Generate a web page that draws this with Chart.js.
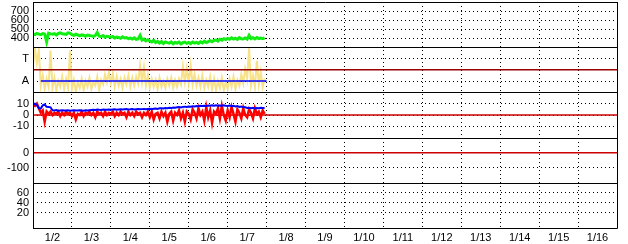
<!DOCTYPE html>
<html>
<head>
<meta charset="utf-8">
<script src="https://cdn.jsdelivr.net/npm/chart.js@4/dist/chart.umd.min.js"></script>
<style>
html,body{margin:0;padding:0;background:#fff;}
canvas{display:block;}
</style>
</head>
<body>
<canvas id="c" width="628" height="244"></canvas>
<script>
// ---- categories / tick labels ----
const dayLabels = ['1/2','1/3','1/4','1/5','1/6','1/7','1/8','1/9','1/10','1/11','1/12','1/13','1/14','1/15','1/16'];
const panel1Ticks = [400, 500, 600, 700];
const panel2Ticks = [1, 3];
const panel2TickNames = {1: 'A', 3: 'T'};
const panel3Ticks = [-10, 0, 10];
const panel4Ticks = [-100, 0];
const panel5Ticks = [20, 40, 60];

// ---- sampling (days since start of 1/2) ----
const sampleStart = 0;
const sampleStep = 0.05;

// ---- series values ----
const greenVals = [
 448,440,452,445,438,450,446,360,455,447,
 444,450,436,452,458,449,445,441,458,456,
 438,432,444,435,425,436,432,420,434,430,
 425,420,428,462,422,418,428,410,420,416,
 410,418,402,412,408,398,414,402,406,394,
 400,390,404,386,392,430,378,390,370,382,
 368,358,376,352,365,345,362,340,358,350,
 344,358,338,352,346,356,336,350,356,342,
 352,340,358,346,354,342,360,348,366,352,
 362,372,360,376,380,368,388,378,394,384,
 398,388,404,390,400,386,406,394,392,402,
 390,432,396,406,392,408,396,402,394,404
];
const yellowVals = [
 2.4,3.9,2.6,3.7,0.6,1.5,0.3,1.2,0.5,3.7,
 0.4,1.3,0.2,1.0,0.5,1.4,0.3,1.2,0.4,3.7,
 0.3,1.1,0.1,0.9,0.4,1.2,0.2,1.0,0.5,1.3,
 0.3,0.9,0.6,1.4,0.2,1.1,0.7,1.6,0.9,1.8,
 0.8,1.7,0.5,1.4,0.6,1.2,0.4,1.3,0.7,1.5,
 0.5,1.3,0.6,1.4,0.8,2.4,0.9,2.2,0.6,1.5,
 0.4,1.2,0.5,1.1,0.3,1.3,0.5,1.0,0.4,1.2,
 0.6,1.3,0.4,1.1,0.5,1.2,0.7,2.3,0.9,2.1,
 0.8,2.4,0.7,1.6,0.6,1.3,0.5,1.5,0.4,1.1,
 0.5,1.4,0.3,1.2,0.2,1.0,0.4,1.3,0.2,0.9,
 0.3,1.2,0.5,1.4,0.3,1.1,0.6,1.6,0.8,2.1,
 1.2,3.9,0.6,1.5,0.5,2.8,0.7,1.8,0.5,1.2
];
const blueVals = [
 9.5,10,8.8,6,5.8,8.5,9.3,7.2,7,6.8,
 4.2,4,4.4,3.8,4,4.2,3.9,4,4.1,3.8,
 4,4.2,3.9,4,4.3,4,3.8,4.1,4,4.2,
 4.4,4.6,4.4,4.8,4.6,4.5,4.8,4.6,4.7,4.9,
 4.6,4.8,5,4.7,4.9,5.1,4.8,5,5.2,4.9,
 5,5.2,4.9,5.1,5.3,5,5.2,5.4,5.1,5.3,
 5.5,5.2,5.6,5.8,5.4,5.9,6,5.7,6.2,6,
 6.3,6.1,6.6,6.4,6.8,7,6.7,7.2,7.4,7.1,
 7.5,7.3,7.8,7.6,8,7.7,8.1,7.9,8.2,8,
 8.3,8.1,8.5,8.2,8.6,8.3,8.4,8.1,8.5,8.2,
 8,8.3,7.8,8.1,7.6,7.9,7.2,7.5,7,6.8,
 6.2,6.4,6,6.3,5.8,6.2,6,6.4,6.1,6.3
];
const redVals = [
 9,8,10,6,2,4,-6,3,1,3,
 0,2,1,3,-1,2,0,3,1,2,
 -1,2,-4,1,0,3,-1,2,1,3,
 0,2,-2,3,1,2,-1,3,0,2,
 1,3,-1,2,0,3,1,2,-2,3,
 0,2,-1,3,1,2,-2,2,0,3,
 -2,3,-4,1,2,-3,3,-1,2,-6,
 1,3,-5,2,0,4,-3,2,-6,3,
 1,-4,5,2,-3,6,0,3,-5,7,
 -2,4,-7,3,1,6,-3,8,0,-5,
 4,-2,7,1,-6,5,2,-3,6,0,
 -2,5,2,-3,6,1,3,-2,4,1
];
// level lines: [startDay, endDay, value]
const alarmLevel = [0, 15, 2];
const avgLevel = [0.2, 6.0, 1];
const zeroLevel3 = [0, 15, 0];
const zeroLevel4 = [0, 15, 0];

// ---- build datasets ----
const toPts = vals => vals.map((v, i) => ({x: sampleStart + i * sampleStep, y: v}));
const lvl = a => [{x: a[0], y: a[2]}, {x: a[1], y: a[2]}];

const FONT = {family: "'Liberation Sans Narrow','Liberation Sans',Arial,sans-serif", size: 11};
const common = {pointRadius: 0, borderJoinStyle: 'miter', tension: 0, fill: false, xAxisID: 'x'};

const datasets = [
  Object.assign({label: 'green', data: toPts(greenVals), yAxisID: 'y1', borderColor: '#11ee11', borderWidth: 3, order: 1}, common),
  Object.assign({label: 'avg', data: lvl(avgLevel), yAxisID: 'y2', borderColor: '#0000ff', borderWidth: 1.5, order: 1}, common),
  Object.assign({label: 'alarm', data: lvl(alarmLevel), yAxisID: 'y2', borderColor: '#990000', borderWidth: 1.5, order: 2}, common),
  Object.assign({label: 'yellow', data: toPts(yellowVals), yAxisID: 'y2', borderColor: '#f7e28a', borderWidth: 2, order: 3}, common),
  Object.assign({label: 'blue', data: toPts(blueVals), yAxisID: 'y3', borderColor: '#0000ff', borderWidth: 2, order: 1}, common),
  Object.assign({label: 'red', data: toPts(redVals), yAxisID: 'y3', borderColor: '#ff0000', borderWidth: 2.5, order: 2}, common),
  Object.assign({label: 'zero3', data: lvl(zeroLevel3), yAxisID: 'y3', borderColor: '#cc0000', borderWidth: 1.5, order: 3}, common),
  Object.assign({label: 'zero4', data: lvl(zeroLevel4), yAxisID: 'y4', borderColor: '#cc0000', borderWidth: 1.5, order: 1}, common)
];

function noPad(s) { s.paddingTop = 0; s.paddingBottom = 0; s.paddingLeft = 0; s.paddingRight = 0; }

function yAxis(min, max, ticks, cb) {
  return {
    type: 'linear', position: 'left', stack: 'panels', stackWeight: 1, offset: false,
    min: min, max: max,
    afterBuildTicks: s => { s.ticks = ticks.map(v => ({value: v})); },
    afterFit: s => { s.width = 33; noPad(s); },
    grid: {color: '#000', lineWidth: 1, drawTicks: false},
    border: {display: false, dash: [1, 3]},
    ticks: {color: '#000', font: FONT, padding: 4, autoSkip: false, callback: cb || (v => String(v))}
  };
}

const framePlugin = {
  id: 'frame',
  afterDraw(chart) {
    const ctx = chart.ctx, a = chart.chartArea;
    ctx.save();
    ctx.strokeStyle = '#000';
    ctx.lineWidth = 1;
    ctx.setLineDash([]);
    ctx.beginPath();
    ['y1', 'y2', 'y3', 'y4', 'y5'].forEach(id => {
      const yb = Math.round(chart.scales[id].bottom) + 0.5;
      ctx.moveTo(a.left, yb); ctx.lineTo(a.right, yb);
    });
    ctx.rect(Math.round(a.left) + 0.5, Math.round(a.top) + 0.5, Math.round(a.right - a.left), Math.round(a.bottom - a.top));
    ctx.stroke();
    ctx.restore();
  }
};

new Chart(document.getElementById('c'), {
  type: 'line',
  data: {labels: dayLabels, datasets: datasets},
  options: {
    responsive: false, animation: false, devicePixelRatio: 1,
    layout: {padding: {left: 0, right: 11, top: 2, bottom: 0}},
    plugins: {legend: {display: false}, tooltip: {enabled: false}},
    scales: {
      xc: {
        type: 'category', position: 'bottom', labels: dayLabels, offset: true,
        afterFit: s => { s.height = 16; noPad(s); },
        grid: {offset: true, color: '#000', lineWidth: 1, drawTicks: false},
        border: {display: false, dash: [1, 3]},
        ticks: {color: '#000', font: FONT, padding: 3, autoSkip: false, maxRotation: 0}
      },
      x: {type: 'linear', min: 0, max: 15, display: false},
      y5: yAxis(-10, 80, panel5Ticks),
      y4: yAxis(-200, 100, panel4Ticks),
      y3: yAxis(-20, 20, panel3Ticks),
      y2: yAxis(0, 4, panel2Ticks, v => panel2TickNames[v] || ''),
      y1: yAxis(300, 800, panel1Ticks)
    }
  },
  plugins: [framePlugin]
});
</script>
</body>
</html>
